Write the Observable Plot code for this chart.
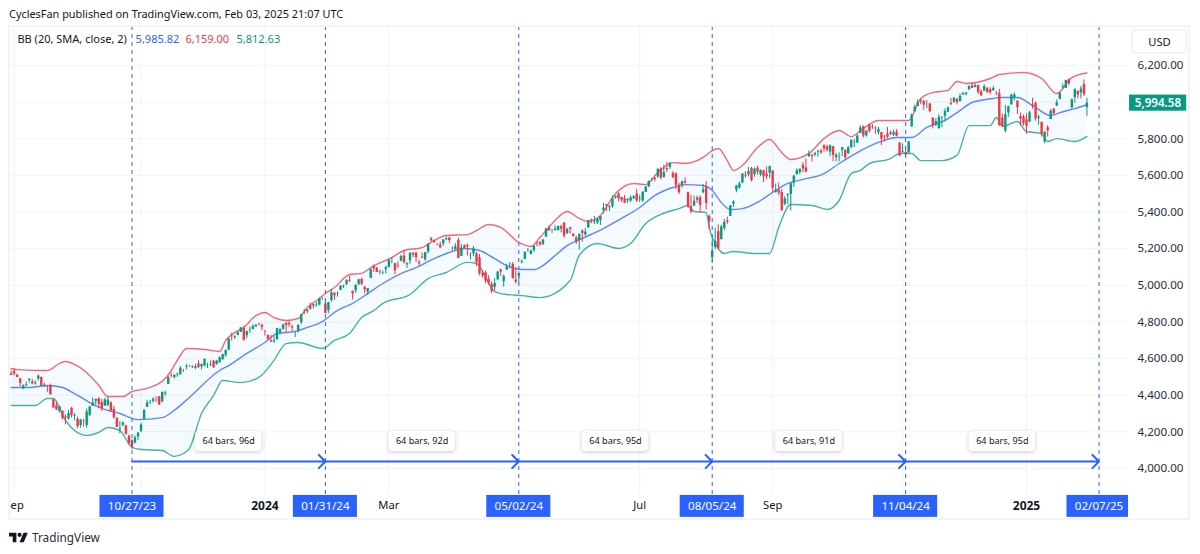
<!DOCTYPE html>
<html><head><meta charset="utf-8">
<script src="https://cdn.jsdelivr.net/npm/d3@7"></script>
<script src="https://cdn.jsdelivr.net/npm/@observablehq/plot@0.6"></script>
<style>
html,body{margin:0;padding:0;background:#fff;width:1200px;height:554px;overflow:hidden;font-family:"Noto Sans",sans-serif;color:#131722}
#title{height:25px;line-height:28px;font-size:10.9px;padding-left:9px;box-sizing:border-box;white-space:nowrap}
#chart svg{display:block}
#frame{position:absolute;left:8px;top:25px;width:1182px;height:495px;box-sizing:border-box;border:2px solid #f2f4f8;pointer-events:none}
#mask{position:absolute;left:0;top:26px;width:8px;height:494px;background:#fff}
#brand{position:absolute;left:9px;top:529px;height:16px;display:flex;align-items:center;gap:4px;font-size:11.8px;color:#2a2e39}
</style></head><body>
<div id="title">CyclesFan published on TradingView.com, Feb 03, 2025 21:07 UTC</div>
<div id="chart"></div>
<div id="mask"></div><div id="frame"></div>
<div id="brand"><svg width="19" height="11" viewBox="0 3 36 20"><path fill="#131722" d="M14 22H7V11H0V4h14v18ZM28 22h-8l7.5-18h8L28 22Z"/><circle fill="#131722" cx="20" cy="8" r="4"/></svg><span>TradingView</span></div>
<script>
// Daily candles, first bar is 40 bars before 10/27/23
const opens=[
4517,4530,4510,4490,4434,4452,4480,4473,4462,4488,4498,4446,4445,4453,4375,4342,4311,4313,4282,4270,4328,
4284,4270,4234,4259,4234,4290,4339,4367,4381,4360,4340,4345,4358,4322,4274,4211,4235,4233,4176,4152,4140,4172,
4201,4268,4334,4364,4366,4384,4391,4365,4406,4459,4505,4497,4510,4512,4539,4553,4556,4555,4546,4571,4555,
4559,4570,4565,4586,4568,4577,4593,4618,4646,4722,4714,4726,4744,4764,4725,4753,4758,4773,4787,4782,
4745,4726,4697,4691,4703,4741,4760,4792,4792,4772,4739,4753,4797,4853,4856,4888,4886,4888,4892,4925,4899,
4862,4916,4958,4951,4973,4995,5005,5027,4967,4970,5004,5032,4989,4963,5038,5101,5093,5074,5068,5085,
5098,5131,5118,5109,5132,5160,5112,5134,5174,5175,5124,5154,5139,5182,5254,5243,5220,5220,5226,5248,
5258,5205,5194,5245,5158,5218,5217,5160,5172,5172,5150,5064,5068,5032,5005,4988,5029,5085,5020,5084,5115,5115,
5029,5050,5123,5142,5187,5168,5189,5225,5234,5222,5263,5311,5303,5298,5298,5320,5340,5281,5316,5278,5259,5244,
5297,5276,5314,5357,5343,5341,5354,5409,5441,5424,5432,5476,5499,5480,5473,5461,5460,5473,5499,
5471,5461,5507,5537,5572,5584,5591,5635,5590,5638,5644,5610,5608,5544,5544,5566,5506,5429,5433,5477,5478,5505,
5537,5377,5152,5206,5294,5249,5311,5352,5376,5443,5519,5530,5558,5602,5603,5637,5603,5639,5602,5625,5607,5612,
5624,5506,5520,5507,5443,5490,5496,5558,5605,5615,5655,5641,5703,5709,5712,5728,5733,5762,5756,5727,
5757,5698,5698,5737,5737,5719,5752,5778,5776,5829,5866,5816,5875,5860,5857,5833,5834,5813,5826,5833,5819,5837,5775,
5723,5725,5722,5864,5947,5976,6008,6003,5985,5990,5912,5874,5855,5914,5924,5945,5992,6000,6015,6003,
6040,6042,6069,6089,6081,6091,6057,6060,6074,6068,6063,6052,6047,5913,5842,5941,5985,6024,6006,5921,5920,
5903,5891,5983,5993,5911,5890,5783,5860,5905,5962,5978,6014,6081,6076,6121,5969,6026,6058,6051,6096,
5970];
const highs=[
4532,4542,4515,4490,4457,4473,4490,4487,4479,4511,4498,4467,4452,4461,4376,4358,4338,4314,4292,4317,4334,
4300,4281,4268,4268,4325,4337,4385,4379,4386,4378,4383,4393,4365,4340,4276,4256,4255,4236,4183,4157,4178,4195,
4246,4320,4373,4372,4386,4391,4393,4418,4422,4502,4521,4512,4521,4557,4540,4569,4561,4561,4569,4588,4570,
4599,4574,4587,4591,4590,4610,4623,4647,4710,4739,4726,4749,4769,4778,4749,4772,4785,4785,4794,4788,
4755,4729,4727,4722,4764,4766,4790,4799,4802,4783,4744,4785,4842,4868,4867,4903,4899,4907,4929,4931,4907,
4907,4975,4958,4965,4999,5000,5031,5048,4970,5002,5033,5039,4994,4983,5089,5111,5097,5080,5078,5105,
5140,5149,5118,5128,5165,5189,5125,5179,5179,5180,5137,5176,5180,5226,5261,5246,5229,5235,5249,5264,
5263,5209,5228,5257,5223,5220,5225,5178,5212,5181,5168,5079,5078,5052,5019,5038,5077,5089,5057,5115,5124,5124,
5096,5074,5140,5181,5201,5191,5215,5239,5239,5250,5312,5325,5305,5325,5324,5329,5342,5311,5316,5283,5268,5281,
5302,5310,5354,5362,5376,5365,5376,5448,5442,5432,5488,5487,5506,5480,5490,5472,5489,5490,5524,
5490,5510,5539,5570,5584,5591,5635,5642,5655,5670,5668,5622,5615,5557,5570,5586,5508,5491,5488,5487,5489,5551,
5567,5384,5250,5312,5330,5328,5360,5372,5436,5462,5546,5563,5609,5621,5643,5644,5642,5651,5631,5629,5646,5651,
5626,5553,5559,5523,5484,5498,5561,5601,5636,5636,5671,5690,5734,5716,5726,5736,5741,5767,5765,5766,
5758,5720,5723,5753,5739,5758,5792,5796,5822,5871,5870,5843,5879,5878,5867,5863,5835,5818,5862,5843,5848,5851,5781,
5772,5741,5783,5936,5984,6013,6018,6010,6008,5993,5916,5909,5932,5921,5963,5973,6021,6026,6020,6044,
6054,6053,6089,6100,6100,6091,6066,6095,6080,6079,6086,6058,6070,5936,5982,5979,6041,6050,6007,5941,5930,
5935,5949,6022,6001,5928,5890,5837,5872,5961,5965,6012,6052,6100,6119,6128,6018,6074,6062,6087,6121,
6022];
const lows=[
4507,4505,4496,4443,4430,4448,4467,4456,4454,4478,4447,4443,4416,4401,4329,4316,4303,4265,4238,4264,4275,
4260,4216,4220,4225,4220,4284,4339,4346,4326,4312,4340,4338,4306,4269,4223,4190,4227,4182,4127,4103,4133,4153,
4197,4268,4334,4348,4356,4359,4344,4357,4394,4459,4495,4488,4497,4510,4524,4538,4554,4546,4540,4547,4538,
4554,4546,4556,4549,4564,4575,4593,4606,4643,4695,4705,4725,4743,4697,4708,4737,4758,4769,4781,4752,
4723,4699,4687,4682,4700,4730,4753,4739,4771,4748,4715,4740,4785,4840,4845,4865,4870,4881,4888,4917,4845,
4845,4908,4919,4935,4970,4983,4999,5016,4920,4956,4999,4997,4954,4946,5038,5070,5069,5057,5058,5062,
5094,5118,5057,5092,5128,5116,5092,5115,5152,5125,5104,5146,5131,5172,5240,5229,5216,5203,5213,5247,
5229,5185,5192,5146,5157,5197,5160,5138,5158,5102,5052,5039,5008,4999,4953,4969,5029,5048,4990,5081,5089,5035,
5007,5011,5117,5142,5181,5166,5180,5210,5211,5218,5263,5296,5283,5298,5298,5286,5256,5279,5279,5263,5223,5192,
5235,5266,5310,5336,5331,5331,5327,5390,5403,5403,5421,5471,5455,5452,5447,5446,5452,5469,5452,
5452,5452,5507,5535,5565,5565,5586,5577,5584,5616,5632,5583,5522,5497,5530,5552,5419,5390,5430,5447,5395,5500,
5411,5302,5120,5194,5196,5249,5298,5333,5376,5425,5505,5525,5555,5585,5592,5565,5590,5602,5593,5561,5576,5582,
5505,5504,5490,5403,5434,5442,5406,5535,5600,5604,5614,5615,5698,5674,5702,5699,5716,5727,5727,5703,
5675,5674,5675,5702,5686,5714,5747,5752,5775,5829,5804,5809,5831,5851,5824,5820,5762,5782,5799,5818,5812,5811,5703,
5723,5696,5722,5864,5947,5976,5986,5955,5965,5942,5854,5866,5853,5860,5892,5942,5980,5993,5985,6003,
6036,6034,6062,6076,6078,6042,6029,6060,6050,6040,6059,6035,5867,5866,5832,5918,5985,6007,5933,5869,5869,
5824,5888,5961,5896,5874,5809,5773,5809,5905,5931,5978,6014,6071,6075,6088,5962,5994,6018,6018,6031,
5923];
const closes=[
4508,4516,4497,4465,4451,4457,4487,4462,4467,4505,4450,4454,4444,4402,4330,4320,4337,4274,4275,4300,4288,
4288,4229,4264,4258,4309,4336,4358,4377,4350,4328,4374,4373,4315,4278,4224,4217,4248,4187,4137,4117,4167,4194,
4238,4318,4358,4366,4378,4383,4347,4415,4412,4496,4503,4508,4514,4547,4538,4557,4559,4550,4555,4551,4568,
4595,4570,4567,4549,4586,4604,4622,4644,4707,4720,4719,4741,4768,4698,4747,4755,4775,4782,4783,4770,
4743,4705,4689,4697,4764,4757,4783,4780,4784,4766,4739,4781,4840,4850,4865,4869,4894,4891,4928,4925,4846,
4906,4959,4943,4954,4995,4998,5027,5022,4953,5001,5030,5006,4976,4982,5087,5089,5070,5078,5070,5096,
5137,5131,5079,5105,5157,5124,5118,5175,5165,5150,5117,5149,5179,5225,5242,5234,5218,5204,5248,5254,
5244,5206,5211,5147,5204,5202,5210,5161,5199,5123,5062,5051,5022,5011,4967,5011,5071,5072,5048,5100,5116,5036,
5018,5064,5128,5181,5188,5188,5214,5223,5221,5247,5308,5297,5303,5308,5321,5307,5268,5305,5306,5267,5235,5278,
5283,5291,5354,5353,5347,5361,5375,5421,5434,5432,5473,5487,5473,5465,5448,5469,5478,5483,5460,
5475,5509,5537,5567,5573,5577,5634,5585,5615,5631,5667,5588,5545,5505,5564,5556,5427,5399,5459,5464,5436,5522,
5447,5347,5186,5240,5200,5319,5344,5344,5434,5455,5543,5554,5608,5597,5621,5571,5635,5617,5626,5592,5592,5648,
5529,5520,5503,5408,5471,5496,5554,5596,5626,5633,5635,5618,5714,5703,5719,5733,5722,5745,5738,5762,
5709,5710,5700,5751,5696,5751,5792,5780,5815,5860,5815,5842,5841,5865,5854,5851,5797,5810,5808,5824,5833,5814,5705,
5729,5713,5783,5929,5973,5996,6001,5984,5985,5949,5871,5894,5917,5917,5949,5969,5987,6022,5999,6032,
6047,6050,6086,6075,6090,6053,6035,6084,6051,6051,6074,6051,5872,5867,5931,5974,6040,6038,5971,5907,5882,
5869,5942,5975,5909,5918,5827,5836,5843,5950,5937,5997,6049,6086,6119,6101,6012,6068,6039,6071,6041,
5995];

// Bollinger bands: bar offset and price
const upperBars=[-40,-38,-28,-24,-22,-19,-14,-11,-8,-3,0,5,11,13,16,18,24,29,31,34,37,41,44,47,51,55,58,62,64,67,72,76,79,86,90,96,100,104,111,114,118,122,128,132,135,137,140,144,148,151,155,160,166,170,174,179,183,189,192,194,197,199,202,207,211,215,218,224,229,234,238,242,247,255,257,261,265,270,273,276,284,287,295,301,306,311,316];
const upperVals=[4546,4540,4535,4573,4584,4568,4508,4454,4393,4393,4420,4437,4491,4535,4617,4655,4650,4639,4699,4742,4770,4835,4852,4824,4808,4819,4879,4928,4955,4988,5059,5065,5097,5152,5190,5206,5245,5272,5277,5299,5332,5316,5234,5212,5261,5299,5354,5403,5365,5349,5381,5501,5556,5550,5616,5670,5665,5698,5736,5747,5681,5627,5654,5752,5796,5725,5687,5720,5801,5845,5812,5856,5900,5900,5900,6020,6053,6064,6113,6102,6129,6151,6162,6129,6047,6134,6159];
const middleBars=[-40,-34,-28,-23,-19,-14,-10,-4,2,10,14,19,29,32,38,44,48,54,58,63,68,73,78,83,89,94,100,105,110,115,120,124,129,133,136,140,144,149,156,162,168,173,179,183,189,192,195,198,202,208,212,217,222,229,234,240,247,253,258,263,269,273,278,285,287,293,298,304,307,312,316];
const middleVals=[4442,4442,4453,4442,4409,4360,4328,4300,4267,4278,4317,4388,4535,4562,4628,4688,4737,4748,4770,4802,4863,4901,4955,5010,5064,5097,5146,5179,5201,5190,5146,5108,5086,5086,5108,5163,5217,5256,5310,5365,5425,5490,5534,5550,5545,5518,5452,5414,5419,5463,5507,5556,5578,5610,5665,5725,5780,5807,5807,5862,5900,5943,5998,6020,6025,6025,5982,5927,5943,5965,5986];
const lowerBars=[-40,-32,-28,-26,-22,-19,-15,-11,-8,-4,0,3,10,14,17,19,23,27,30,36,42,47,51,55,63,67,72,76,80,83,92,98,104,111,114,120,124,129,135,145,148,154,161,165,170,175,181,184,186,190,191,194,196,199,206,211,214,218,225,230,234,238,241,244,251,254,258,261,268,273,277,284,286,288,293,296,301,303,306,312,316];
const lowerVals=[4344,4344,4382,4382,4262,4207,4180,4197,4224,4207,4115,4104,4098,4066,4082,4109,4300,4398,4480,4469,4497,4590,4682,4688,4655,4699,4737,4824,4862,4901,4950,5037,5070,5125,5119,4966,4950,4944,4933,5026,5163,5228,5201,5228,5337,5387,5419,5436,5403,5398,5316,5201,5174,5185,5174,5174,5316,5441,5436,5414,5463,5610,5627,5665,5692,5720,5720,5681,5681,5709,5872,5872,5916,5867,5894,5840,5829,5785,5801,5785,5813];

// Date ranges and labels
const rangeBars=[0,64,128,192,256,320];
const rangeDates=["10/27/23","01/31/24","05/02/24","08/05/24","11/04/24","02/07/25"];
const rangeNotes=["64 bars, 96d","64 bars, 92d","64 bars, 95d","64 bars, 91d","64 bars, 95d"];
const priceTicks=[4000,4200,4400,4600,4800,5000,5200,5400,5600,5800,6000,6200];
const priceLabels=[4000,4200,4400,4600,4800,5000,5200,5400,5600,5800,6200];
const gridBars=[-39,3,44,85,127,168,212,255,296];
const monthBars=[-39,85,168,212];
const monthNames=["Sep","Mar","Jul","Sep"];
const yearBars=[44,296];
const yearNames=["2024","2025"];
const legendNames=["BB (20, SMA, close, 2)"];
const legendValues=["5,985.82","6,159.00","5,812.63"];
const lastPrice=5994.58;

const GREEN="#089981",RED="#F23645",BLUE="#2962FF",INK="#131722",GRID="#f2f4f7";
const barAt=i=>i-40;
const idx=d3.range(opens.length);
const toPts=(b,v)=>b.map((k,i)=>({k,v:v[i]}));
const upperPts=toPts(upperBars,upperVals),middlePts=toPts(middleBars,middleVals),lowerPts=toPts(lowerBars,lowerVals);
const nFill=Math.max(upperPts.length,lowerPts.length);
const fillRows=d3.range(nFill).map(i=>({u:upperPts[Math.min(i,upperPts.length-1)],l:lowerPts[Math.min(i,lowerPts.length-1)]}));
const kMax=329.75;
const arrowRows=rangeNotes.map((n,i)=>({a:rangeBars[i],b:rangeBars[i+1],n}));

const chart=Plot.plot({
  width:1200,height:497,
  marginTop:1,marginBottom:28,marginLeft:10,marginRight:72,
  x:{domain:[-40.2,kMax],label:null},
  y:{domain:[3858,6413],label:null},
  color:{type:"identity"},
  style:{background:"#fff",fontFamily:'"Noto Sans",sans-serif',fontSize:"11.6px",color:INK},
  marks:[
    Plot.gridX(gridBars,{stroke:GRID,strokeOpacity:1}),
    Plot.gridY(priceTicks,{stroke:GRID,strokeOpacity:1}),
    Plot.area(fillRows,{x1:d=>d.u.k,y1:d=>d.u.v,x2:d=>d.l.k,y2:d=>d.l.v,fill:"#2196F3",fillOpacity:0.05,curve:"monotone-x"}),
    Plot.line(upperPts,{x:"k",y:"v",stroke:RED,strokeWidth:1.4,strokeOpacity:.75,curve:"monotone-x"}),
    Plot.line(middlePts,{x:"k",y:"v",stroke:BLUE,strokeWidth:1.4,strokeOpacity:.75,curve:"monotone-x"}),
    Plot.line(lowerPts,{x:"k",y:"v",stroke:GREEN,strokeWidth:1.4,strokeOpacity:.75,curve:"monotone-x"}),
    Plot.ruleX(idx,{x:barAt,y1:i=>lows[i],y2:i=>highs[i],stroke:i=>closes[i]>=opens[i]?GREEN:RED,strokeWidth:1}),
    Plot.ruleX(idx,{x:barAt,y1:i=>opens[i],y2:i=>closes[i],stroke:i=>closes[i]>=opens[i]?GREEN:RED,strokeWidth:2.4}),
    Plot.ruleX(rangeBars,{stroke:BLUE,strokeWidth:1,strokeDasharray:"4 4"}),
    Plot.arrow(arrowRows,{x1:"a",x2:"b",y1:4038,y2:4038,stroke:BLUE,strokeWidth:2,headLength:7,headAngle:90}),
    Plot.rect(arrowRows,{x1:d=>(d.a+d.b)/2-11,x2:d=>(d.a+d.b)/2+11,y1:4093,y2:4202,fill:"#fff",rx:4,imageFilter:"drop-shadow(0 1px 2px rgba(0,0,0,.22))"}),
    Plot.text(arrowRows,{x:d=>(d.a+d.b)/2,y:4148,text:"n",fill:INK,fontSize:9.1}),
    Plot.axisY(priceLabels,{anchor:"right",tickSize:0,tickPadding:9,label:null,tickFormat:d3.format(",.2f"),fill:"#2a2e39"}),
    Plot.axisX(monthBars,{anchor:"bottom",tickSize:0,tickPadding:7,label:null,tickFormat:k=>monthNames[monthBars.indexOf(k)],fill:INK,fontSize:11.2}),
    Plot.axisX(yearBars,{anchor:"bottom",tickSize:0,tickPadding:7,label:null,tickFormat:k=>yearNames[yearBars.indexOf(k)],fill:INK,fontSize:12,fontWeight:700}),
    Plot.rect(rangeBars,{x1:k=>k-10.6,x2:k=>Math.min(k+10.6,kMax),y1:3733,y2:3853,fill:BLUE}),
    Plot.text(rangeBars,{x:k=>k,y:3793,text:(k,i)=>rangeDates[i],fill:"#fff",fontSize:11.6}),
    Plot.rect([0],{x1:331.1,x2:349,y1:6266,y2:6391,fill:"#fff",stroke:"#e6e9f0",rx:3}),
    Plot.text(["USD"],{x:340,y:6328,text:d=>d,fill:INK,fontSize:11.2}),
    Plot.rect([lastPrice],{x1:330.1,x2:349,y1:lastPrice-44,y2:lastPrice+44,fill:GREEN}),
    Plot.text([lastPrice],{x:339.5,y:lastPrice,text:d3.format(",.2f"),fill:"#fff",fontSize:11.6,fontWeight:600}),
    Plot.text(legendNames,{x:-37.9,y:6342,text:d=>d,textAnchor:"start",fill:INK,fontSize:11}),
    Plot.text(legendValues,{x:(d,i)=>[1.2,17.7,34.6][i],y:6342,text:d=>d,textAnchor:"start",fill:(d,i)=>[BLUE,RED,GREEN][i],fontSize:11})
  ]
});
document.getElementById("chart").append(chart);
</script>
</body></html>
